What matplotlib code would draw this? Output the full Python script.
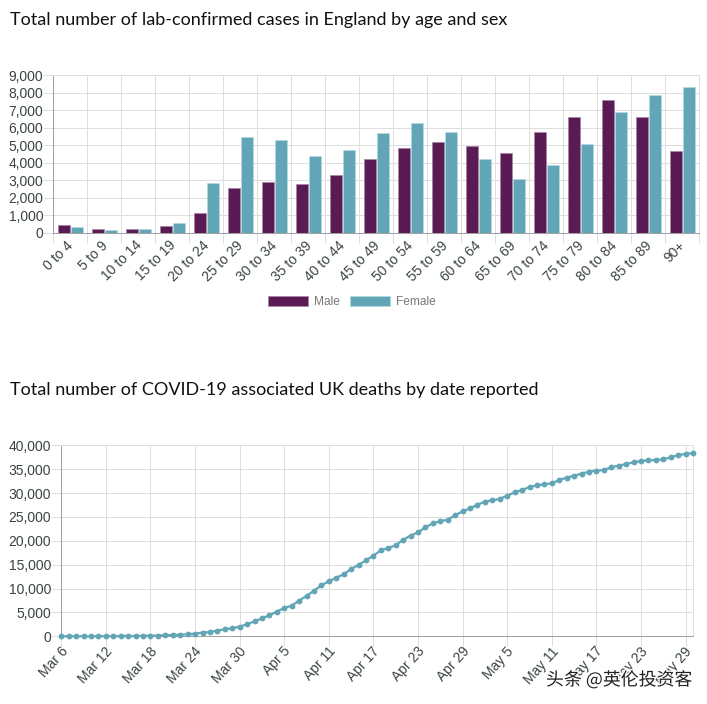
"""UK COVID-19 dashboard panels: cases by age and sex, cumulative deaths."""
import matplotlib

matplotlib.use("Agg")
import matplotlib.patheffects as pe
import matplotlib.pyplot as plt
import numpy as np
from matplotlib.ticker import StrMethodFormatter
from matplotlib.transforms import ScaledTranslation

AGE_GROUPS = ["0 to 4", "5 to 9", "10 to 14", "15 to 19", "20 to 24", "25 to 29",
              "30 to 34", "35 to 39", "40 to 44", "45 to 49", "50 to 54", "55 to 59",
              "60 to 64", "65 to 69", "70 to 74", "75 to 79", "80 to 84", "85 to 89", "90+"]
MALE = [420, 210, 230, 380, 1100, 2555, 2880, 2765, 3300, 4195, 4860, 5170,
        4940, 4580, 5740, 6600, 7570, 6640, 4670]
FEMALE = [345, 150, 210, 570, 2820, 5450, 5320, 4405, 4710, 5680, 6270, 5740,
          4215, 3090, 3850, 5070, 6880, 7850, 8310]

DEATHS = [5, 5, 8, 10, 10, 15, 20, 30, 40, 50, 70, 90, 120, 160, 220, 280, 340, 420,
          560, 770, 910, 1190, 1470, 1680, 2030, 2510, 3140, 3770, 4400, 5170, 5930,
          6420, 7470, 8450, 9560, 10680, 11520, 12280, 12980, 14100, 14940, 15910,
          16890, 18010, 18500, 19060, 20240, 21080, 21780, 22820, 23660, 24080, 24430,
          25340, 26180, 26800, 27570, 28200, 28480, 28760, 29460, 30150, 30640, 31270,
          31620, 31830, 32040, 32740, 33220, 33640, 34060, 34480, 34690, 34830, 35390,
          35740, 36090, 36440, 36710, 36850, 36920, 37060, 37480, 37970, 38180, 38390]
DATE_LABELS = ["Mar 6", "Mar 12", "Mar 18", "Mar 24", "Mar 30", "Apr 5", "Apr 11",
               "Apr 17", "Apr 23", "Apr 29", "May 5", "May 11", "May 17", "May 23", "May 29"]

W, H = 707, 704
PURPLE = "#5a1a54"
TEAL = "#62a5b6"
GRID = "#dedede"
AXIS = "#a0a0a0"
TICK_TEXT = "#3a4446"
TITLE_FONT = "Lato"
LW = 0.72  # one pixel at dpi 100


def px_axes(fig, left, top, right, bottom):
    return fig.add_axes([left / W, 1 - bottom / H, (right - left) / W, (bottom - top) / H])


def style(ax):
    ax.grid(True, color=GRID, linewidth=LW)
    ax.set_axisbelow(True)
    for side in ("top", "right"):
        ax.spines[side].set_color(GRID)
    ax.spines["left"].set_color(AXIS)
    ax.spines["bottom"].set_color(AXIS)
    for spine in ax.spines.values():
        spine.set_linewidth(LW)
    ax.tick_params(axis="both", length=10 * LW, width=LW, color=GRID, labelsize=10,
                   labelcolor=TICK_TEXT, pad=0)
    ax.yaxis.set_major_formatter(StrMethodFormatter("{x:,.0f}"))


def place_labels(fig, labels, rotation, dx, dy):
    shift = ScaledTranslation(dx / 100, dy / 100, fig.dpi_scale_trans)
    for label in labels:
        label.set(rotation=rotation, ha="right", va="top", rotation_mode="anchor")
        label.set_transform(label.get_transform() + shift)


def main():
    plt.rcParams["font.family"] = ["Liberation Sans", "DejaVu Sans"]
    fig = plt.figure(figsize=(W / 100, H / 100), dpi=100)

    for y, title in [(19, "Total number of lab-confirmed cases in England by age and sex"),
                     (390, "Total number of COVID-19 associated UK deaths by date reported")]:
        fig.text(10 / W, 1 - (y + 5.5) / H, title, fontsize=13.0, family=TITLE_FONT,
                 color="#111111", va="baseline")

    # bars
    ax = px_axes(fig, 53.3, 75.3, 699.3, 232.7)
    x = np.arange(len(AGE_GROUPS))
    ax.bar(x - 0.19, MALE, width=0.37, color=PURPLE, edgecolor="#a884a5", linewidth=0.5, label="Male")
    ax.bar(x + 0.2, FEMALE, width=0.37, color=TEAL, edgecolor="#b4dae3", linewidth=0.5, label="Female")
    ax.set_xlim(-0.5, len(AGE_GROUPS) - 0.5)
    ax.set_ylim(0, 9000)
    ax.set_yticks(range(0, 9001, 1000))
    ax.set_xticks(np.arange(len(AGE_GROUPS) + 1) - 0.5)
    ax.set_xticklabels([])
    ax.set_xticks(x, labels=AGE_GROUPS, minor=True)
    style(ax)
    ax.tick_params(axis="x", which="minor", length=0, labelsize=10, labelcolor=TICK_TEXT, pad=0)
    place_labels(fig, ax.get_xticklabels(minor=True), 45, -4, -5.5)
    ax.legend(loc="upper left", bbox_to_anchor=(258 / W, 1 - 286 / H), bbox_transform=fig.transFigure,
              ncol=2, frameon=False, fontsize=8.6, handlelength=3.35, handleheight=0.95,
              handletextpad=0.5, columnspacing=0.85, borderpad=0.3, labelcolor="#777777")

    # line
    ax2 = px_axes(fig, 61.3, 445.3, 693, 636.3)
    days = np.arange(len(DEATHS))
    ax2.plot(days, DEATHS, color=TEAL, linewidth=1.6, marker="o", markersize=4.2,
             markeredgewidth=0, clip_on=False, zorder=3)
    ax2.set_xlim(0, len(DEATHS) - 1)
    ax2.set_ylim(0, 40000)
    ax2.set_yticks(range(0, 40001, 5000))
    ax2.set_xticks(days[::6], labels=DATE_LABELS)
    style(ax2)
    place_labels(fig, ax2.get_xticklabels(), 48, -1, 2)

    fig.text(692 / W, 1 - 680 / H, "头条 @英伦投资客", family=["Noto Sans CJK SC", "DejaVu Sans"],
             fontsize=12.9, color="#222222", ha="right", va="center",
             path_effects=[pe.withStroke(linewidth=2, foreground="white")])

    fig.savefig("out.png", dpi=100)


if __name__ == "__main__":
    main()
